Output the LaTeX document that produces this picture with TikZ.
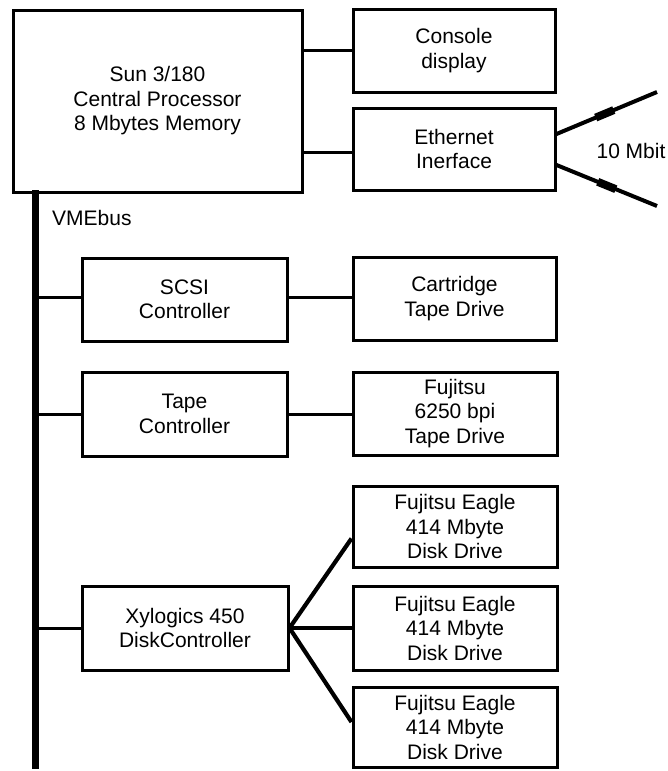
\documentclass[tikz,border=0pt]{standalone}
\usepackage{fontspec}
\setmainfont{Liberation Sans}
\begin{document}
\begin{tikzpicture}[x=1pt,y=-1pt,
  box/.style={draw,line width=3pt,rectangle,inner sep=0pt,align=center,
    font=\fontsize{21}{24.5}\selectfont},
  wire/.style={line width=3pt},
  fan/.style={line width=4.2pt},
  net/.style={line width=4pt},
  jack/.style={line width=8pt},
  lbl/.style={font=\fontsize{21}{24.5}\selectfont,inner sep=0pt}]
\useasboundingbox (0,0) rectangle (667,771);
% boxes
\node[box,minimum width=289pt,minimum height=182pt] (cpu) at (157.5,101) {Sun 3/180\\Central Processor\\8 Mbytes Memory};
\node[box,minimum width=202pt,minimum height=83pt] (console) at (454,50.5) {Console\\display};
\node[box,minimum width=202pt,minimum height=82pt] (eth) at (454,149) {Ethernet\\Inerface};
\node[box,minimum width=205pt,minimum height=83pt] (scsi) at (184.5,299.5) {SCSI\\Controller};
\node[box,minimum width=203pt,minimum height=83pt] (cart) at (454.5,298.5) {Cartridge\\Tape Drive};
\node[box,minimum width=205pt,minimum height=84pt] (tapec) at (184.5,414) {Tape\\Controller};
\node[box,minimum width=204pt,minimum height=83pt] (fuji) at (455,413.5) {Fujitsu\\6250 bpi\\Tape Drive};
\node[box,minimum width=206pt,minimum height=84pt] (xylo) at (185,628) {Xylogics 450\\DiskController};
\node[box,minimum width=204pt,minimum height=81pt] (disk1) at (455,526.5) {Fujitsu Eagle\\414 Mbyte\\Disk Drive};
\node[box,minimum width=204pt,minimum height=84pt] (disk2) at (455,628) {Fujitsu Eagle\\414 Mbyte\\Disk Drive};
\node[box,minimum width=204pt,minimum height=80pt] (disk3) at (455,727) {Fujitsu Eagle\\414 Mbyte\\Disk Drive};
% labels
\node[lbl,anchor=west] (vme) at (52,218) {VMEbus};
\node[lbl] (mbit) at (631,151) {10 Mbit};
% cpu links
\draw[wire] (cpu.east |- console.west) -- (console.west);
\draw[wire] ([yshift=-3pt]cpu.east |- eth.west) -- ([yshift=-3pt]eth.west);
% bus
\coordinate (bustop) at (35,190);
\coordinate (busbot) at (35,769);
\draw[line width=7pt] (bustop) -- (busbot);
\draw[wire] ([yshift=2pt]bustop |- scsi.west) -- ([yshift=2pt]scsi.west);
\draw[wire] (bustop |- tapec.west) -- (tapec.west);
\draw[wire] (bustop |- xylo.west) -- (xylo.west);
% device links
\draw[wire] ([yshift=2pt]scsi.east) -- ([yshift=2pt]scsi.east -| cart.west);
\draw[wire] (tapec.east) -- (tapec.east -| fuji.west);
\draw[fan] (xylo.east) -- ([yshift=-12pt]disk1.west);
\draw[fan] (xylo.east) -- (disk2.west);
\draw[fan] (xylo.east) -- ([yshift=5pt]disk3.west);
% ethernet
\coordinate (e1) at (657,92);
\coordinate (e2) at (657,206);
\draw[net] ([yshift=15pt]eth.east) -- (e1)
  coordinate[pos=0.39] (j1a) coordinate[pos=0.57] (j1b);
\draw[net] ([yshift=-16pt]eth.east) -- (e2)
  coordinate[pos=0.41] (j2a) coordinate[pos=0.59] (j2b);
\draw[jack] (j1a) -- (j1b);
\draw[jack] (j2a) -- (j2b);
\end{tikzpicture}
\end{document}
